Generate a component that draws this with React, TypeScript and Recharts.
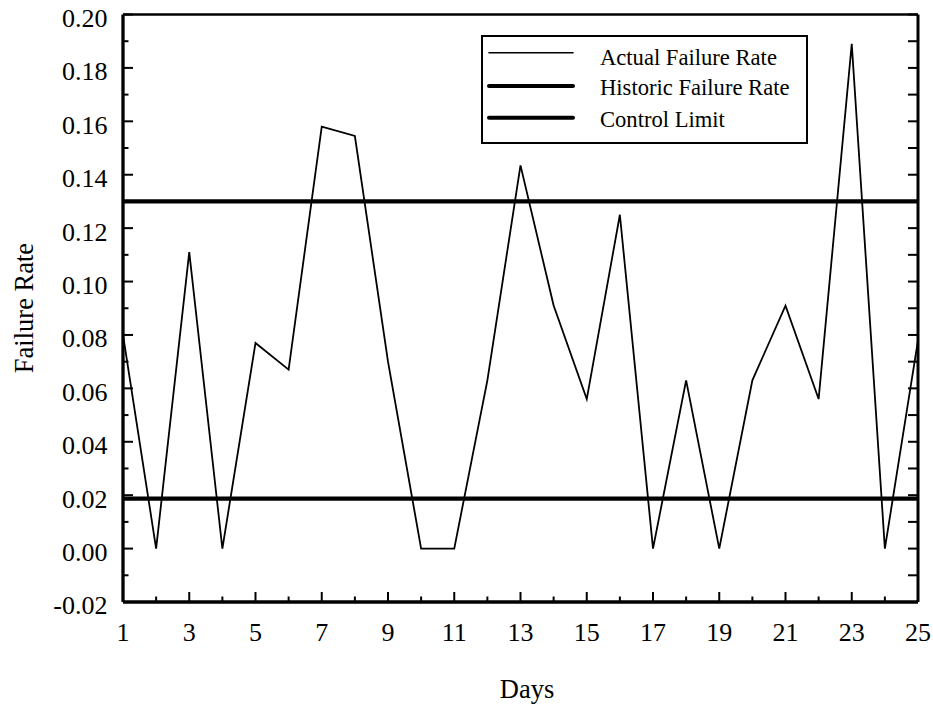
import { LineChart, Line, XAxis, YAxis, ReferenceLine, Legend } from 'recharts';

const days = [1, 2, 3, 4, 5, 6, 7, 8, 9, 10, 11, 12, 13, 14, 15, 16, 17, 18, 19, 20, 21, 22, 23, 24, 25];
const actualRate = [
  0.08, 0, 0.111, 0, 0.077, 0.067, 0.158, 0.1545, 0.07, 0, 0, 0.063, 0.1435,
  0.091, 0.056, 0.125, 0, 0.063, 0, 0.063, 0.091, 0.056, 0.189, 0, 0.078,
];
const historicRate = 0.0187;
const controlLimit = 0.13;

const yTicks = [
  -0.02, -0.01, 0, 0.01, 0.02, 0.03, 0.04, 0.05, 0.06, 0.07, 0.08, 0.09, 0.1,
  0.11, 0.12, 0.13, 0.14, 0.15, 0.16, 0.17, 0.18, 0.19, 0.2,
];
const legendLabels = ['Actual Failure Rate', 'Historic Failure Rate', 'Control Limit'];

const data = days.map((day, i) => ({ day, rate: actualRate[i] }));

const FONT = '"Liberation Serif", "Times New Roman", serif';

const LeftTick = (props: any) => {
  const { x, y, payload } = props;
  const v = payload.value;
  const major = Math.round(v * 100) % 2 === 0;
  return (
    <g>
      <line x1={x} x2={x + (major ? 10 : 5.5)} y1={y} y2={y} stroke="#000" strokeWidth={2} />
      {major && (
        <text x={x - 15.5} y={y + 12.4} textAnchor="end" fontSize={26} fontFamily={FONT} fill="#000">
          {v.toFixed(2)}
        </text>
      )}
    </g>
  );
};

const RightTick = (props: any) => {
  const { x, y } = props;
  return <line x1={x} x2={x - 10} y1={y} y2={y} stroke="#000" strokeWidth={2} />;
};

const BottomTick = (props: any) => {
  const { x, y, payload } = props;
  const major = payload.value % 2 === 1;
  return (
    <g>
      <line x1={x} x2={x} y1={y} y2={y - (major ? 10 : 5.5)} stroke="#000" strokeWidth={2} />
      {major && (
        <text x={x} y={y + 39} textAnchor="middle" fontSize={26} fontFamily={FONT} fill="#000">
          {payload.value}
        </text>
      )}
    </g>
  );
};

const YTitle = () => (
  <text
    x={33}
    y={308}
    transform="rotate(-90 33 308)"
    textAnchor="middle"
    fontSize={26.5}
    fontFamily={FONT}
    fill="#000"
  >
    Failure Rate
  </text>
);

const XTitle = () => (
  <text x={527} y={698} textAnchor="middle" fontSize={26.5} fontFamily={FONT} fill="#000">
    Days
  </text>
);

const LegendBox = () => {
  const lineY = [17.7, 51, 82.7];
  const textY = [30, 60, 91.5];
  const widths = [1.6, 4, 4];
  return (
    <svg width={327} height={109} style={{ display: 'block' }}>
      <rect x={1} y={1} width={325} height={107} fill="#fff" stroke="#000" strokeWidth={2} />
      {legendLabels.map((label, i) => (
        <g key={label}>
          <line x1={8} x2={92} y1={lineY[i]} y2={lineY[i]} stroke="#000" strokeWidth={widths[i]} strokeLinecap="round" />
          <text x={119} y={textY[i]} fontSize={22.6} fontFamily={FONT} fill="#000">
            {label}
          </text>
        </g>
      ))}
    </svg>
  );
};

export default function App() {
  return (
    <div style={{ position: 'absolute', left: 0, top: 0, background: '#fff' }}>
      <LineChart
        width={933}
        height={707}
        data={data}
        margin={{ top: 13.5, right: 14, bottom: 104, left: 122 }}
        style={{ fontFamily: FONT }}
      >
        <XAxis
          dataKey="day"
          type="number"
          domain={[1, 25]}
          ticks={days}
          interval={0}
          height={1}
          tickSize={0}
          tickMargin={0}
          tick={<BottomTick />}
          axisLine={{ stroke: '#000', strokeWidth: 3.3 }}
          label={<XTitle />}
        />
        <XAxis
          xAxisId="top"
          orientation="top"
          dataKey="day"
          type="number"
          domain={[1, 25]}
          height={1}
          tick={false}
          tickLine={false}
          axisLine={{ stroke: '#000', strokeWidth: 2.6 }}
        />
        <YAxis
          type="number"
          domain={[-0.02, 0.2]}
          ticks={yTicks}
          interval={0}
          width={1}
          tickSize={0}
          tickMargin={0}
          tick={<LeftTick />}
          axisLine={{ stroke: '#000', strokeWidth: 3.3 }}
          allowDataOverflow
          label={<YTitle />}
        />
        <YAxis
          yAxisId="right"
          orientation="right"
          type="number"
          domain={[-0.02, 0.2]}
          ticks={yTicks}
          interval={0}
          width={1}
          tickSize={0}
          tickMargin={0}
          tick={<RightTick />}
          axisLine={{ stroke: '#000', strokeWidth: 3 }}
          allowDataOverflow
        />
        <ReferenceLine y={historicRate} stroke="#000" strokeWidth={4.3} ifOverflow="extendDomain" />
        <ReferenceLine y={controlLimit} stroke="#000" strokeWidth={4.3} ifOverflow="extendDomain" />
        <Line
          type="linear"
          dataKey="rate"
          stroke="#000"
          strokeWidth={1.8}
          dot={false}
          activeDot={false}
          isAnimationActive={false}
        />
        <Legend
          layout="vertical"
          align="center"
          verticalAlign="middle"
          content={<LegendBox />}
          wrapperStyle={{ position: 'absolute', left: 481, top: 35, width: 327, height: 109 }}
        />
      </LineChart>
    </div>
  );
}
